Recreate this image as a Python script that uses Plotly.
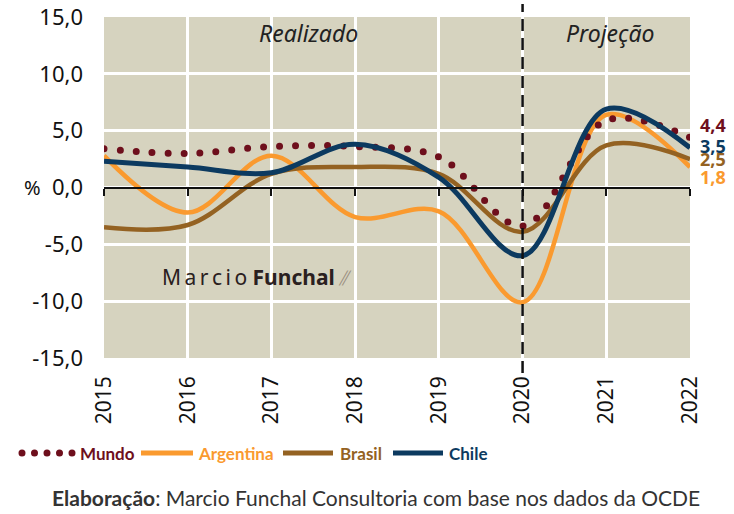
import plotly.graph_objects as go

years = [2015, 2016, 2017, 2018, 2019, 2020, 2021, 2022]
year_labels = ["2015", "2016", "2017", "2018", "2019", "2020", "2021", "2022"]
mundo = [3.4, 3.0, 3.6, 3.6, 2.7, -3.4, 5.9, 4.4]
argentina = [2.8, -2.2, 2.8, -2.6, -2.1, -10.1, 6.4, 1.8]
brasil = [-3.5, -3.3, 1.2, 1.8, 1.2, -3.9, 3.7, 2.5]
chile = [2.3, 1.8, 1.3, 3.8, 0.9, -6.0, 6.9, 3.5]
y_ticks = [-15, -10, -5, 0, 5, 10, 15]
y_labels = ["-15,0", "-10,0", "-5,0", "0,0", "5,0", "10,0", "15,0"]
end_labels = ["4,4", "3,5", "2,5", "1,8"]

C_MUNDO = "#6e0f1c"
C_ARG = "#fa9a2f"
C_BRA = "#946222"
C_CHI = "#0c3a60"
BG = "#d6d3bf"

W, H = 734, 514
L, R, T, B = 104, 44, 17, 156
PW, PH = W - L - R, H - T - B


def px(x):
    return (x - L) / PW


def py(y):
    return (H - B - y) / PH


fig = go.Figure()
series = [
    ("Argentina", argentina, C_ARG, 4.5, "solid"),
    ("Brasil", brasil, C_BRA, 4.5, "solid"),
    ("Mundo", mundo, C_MUNDO, 7, "0px,16px"),
    ("Chile", chile, C_CHI, 5, "solid"),
]
for name, vals, col, w, dash in series:
    fig.add_trace(go.Scatter(
        x=years, y=vals, mode="lines", name=name, showlegend=False,
        line=dict(color=col, width=w, shape="spline", smoothing=1, dash=dash),
        hoverinfo="skip"))

fig.update_layout(
    width=W, height=H,
    margin=dict(l=L, r=R, t=T, b=B, autoexpand=False),
    paper_bgcolor="white", plot_bgcolor=BG,
    font=dict(family="Noto Sans, Lato, sans-serif", color="#111"),
    xaxis=dict(range=[2015, 2022], tickvals=years, ticktext=year_labels,
               tickangle=-90, showgrid=True, gridcolor="white", gridwidth=3,
               zeroline=False, showline=False, ticks="", automargin=False,
               tickfont=dict(size=21, color="#111"), ticklabelstandoff=13),
    xaxis2=dict(range=[2015, 2022], tickvals=years, overlaying="x",
                anchor="free", position=0.5, side="bottom", automargin=False,
                showticklabels=False, showgrid=False, zeroline=False,
                showline=True, linecolor="#111", linewidth=2,
                ticks="outside", ticklen=7, tickwidth=2, tickcolor="#111"),
    yaxis=dict(range=[-15, 15], tickvals=y_ticks, ticktext=y_labels,
               showgrid=True, gridcolor="white", gridwidth=3, automargin=False,
               zeroline=False, ticks="", tickfont=dict(size=22, color="#111"),
               ticklabelstandoff=20),
)
# dummy trace to activate xaxis2
fig.add_trace(go.Scatter(x=[2015], y=[0], xaxis="x2", mode="markers",
                         marker=dict(opacity=0), showlegend=False,
                         hoverinfo="skip"))

# dashed vertical separator at 2020
fig.add_shape(type="line", x0=2020, x1=2020, xref="x", yref="paper",
              y0=py(373), y1=py(4), line=dict(color="#111", width=2.5, dash="12px,7px"))

# Realizado / Projeção
fig.add_annotation(x=2017.44, y=1, xref="x", yref="paper", yanchor="top",
                   text="<i>Realizado</i>", showarrow=False, yshift=2,
                   font=dict(size=23, color="#222"))
fig.add_annotation(x=2021.05, y=1, xref="x", yref="paper", yanchor="top",
                   text="<i>Projeção</i>", showarrow=False, yshift=2,
                   font=dict(size=23, color="#222"))

# % label
fig.add_annotation(x=px(22), y=0, xref="paper", yref="y", text="%",
                   showarrow=False, font=dict(size=20, color="#111"))

# watermark
fig.add_annotation(x=2015.67, y=-7.9, xref="x", yref="y", xanchor="left",
                   text="M\u2009a\u2009r\u2009c\u2009i\u2009o <b>Funchal</b>",
                   showarrow=False, font=dict(size=21, color="#2a2020"))
fig.add_annotation(x=2015.67, y=-7.9, xref="x", yref="y", xanchor="left",
                   xshift=176, yshift=0, text="<i>\u2AFD</i>",
                   showarrow=False, font=dict(size=20, color="#9a8f80"))

# end labels (stacked to the right of the last point)
end_vals = [mundo[-1], chile[-1], brasil[-1], argentina[-1]]
end_cols = [C_MUNDO, C_CHI, C_BRA, C_ARG]
end_shift = [12, 2, 0, -10]
for lab, v, c, s in zip(end_labels, end_vals, end_cols, end_shift):
    fig.add_annotation(x=2022, y=v, xref="x", yref="y", xanchor="left",
                       xshift=9, yshift=s, text="<b>%s</b>" % lab,
                       showarrow=False, borderpad=0,
                       font=dict(size=18, color=c))

# manual legend
leg_y = py(453)
legend_items = [
    ("Mundo", C_MUNDO, 22, 73, 78, "0px,12.5px", 7),
    ("Argentina", C_ARG, 141, 193, 196, "solid", 5),
    ("Brasil", C_BRA, 283, 333, 338, "solid", 5),
    ("Chile", C_CHI, 393, 443, 447, "solid", 5),
]
for name, col, x0, x1, xt, dash, w in legend_items:
    fig.add_shape(type="line", xref="paper", yref="paper", x0=px(x0), x1=px(x1),
                  y0=leg_y, y1=leg_y, line=dict(color=col, width=w, dash=dash))
    fig.add_annotation(x=px(xt), y=leg_y, xref="paper", yref="paper",
                       xanchor="left", yanchor="middle",
                       text="<b>%s</b>" % name, showarrow=False,
                       font=dict(size=17, color=col,
                                 family="Lato, sans-serif"))

# caption
fig.add_annotation(x=px(376), y=py(497), xref="paper", yref="paper",
                   yanchor="middle",
                   text="<b>Elaboração</b>: Marcio Funchal Consultoria com base nos dados da OCDE",
                   showarrow=False,
                   font=dict(size=21, color="#333", family="Lato, sans-serif"))

post = """
document.body.style.margin='0';
var s=document.createElement('style');
s.innerHTML='body{margin:0 !important;} path[style*="dasharray: 0px"]{stroke-linecap:round !important;}';
document.head.appendChild(s);
document.querySelectorAll('path').forEach(function(p){
  if((p.style.strokeDasharray||'').indexOf('0px')===0){p.style.strokeLinecap='round';}
});
"""
fig.write_html("out.html", post_script=post, config={"displayModeBar": False})
